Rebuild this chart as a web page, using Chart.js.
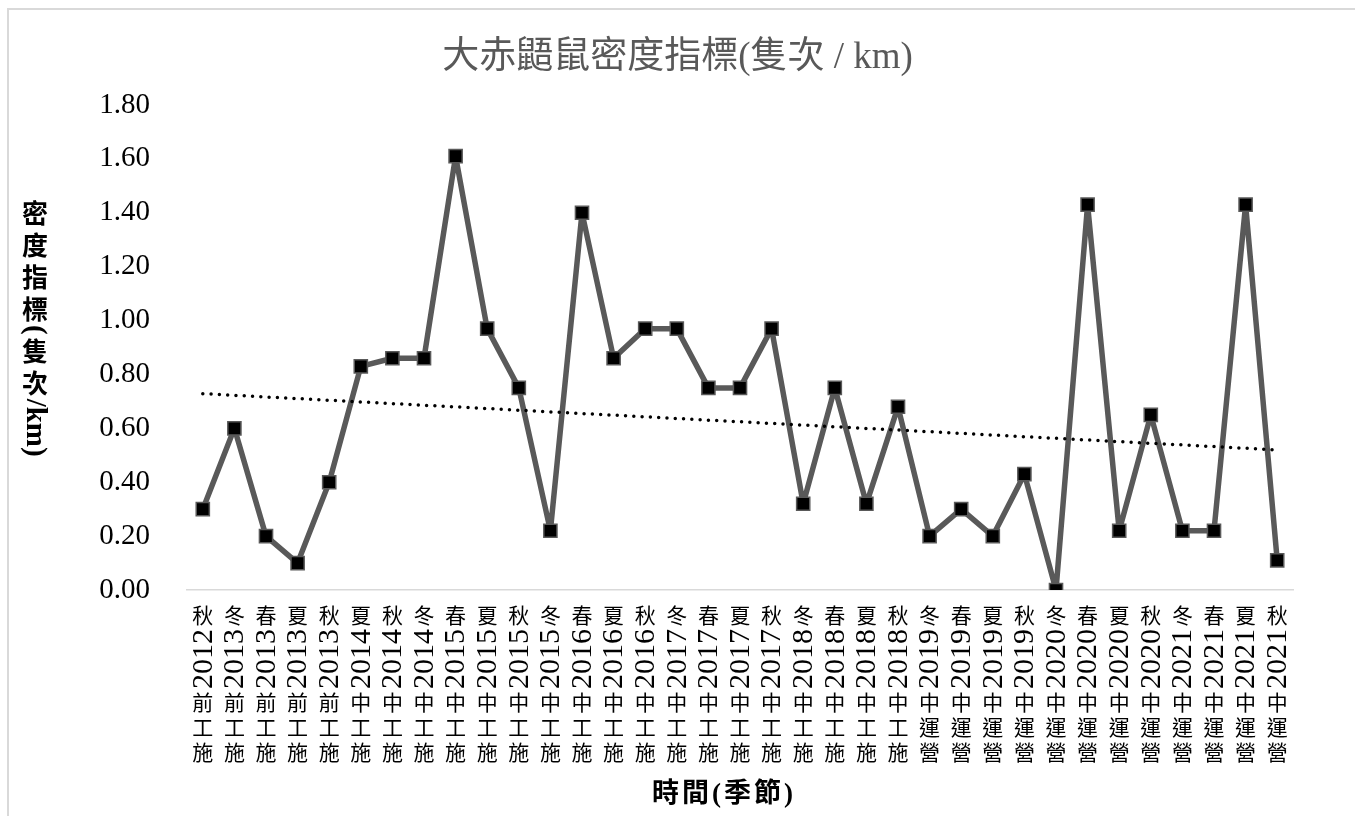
<!DOCTYPE html>
<html><head><meta charset="utf-8">
<script src="https://cdn.jsdelivr.net/npm/chart.js@4"></script>
<style>
html,body{margin:0;padding:0;background:#fff;overflow:hidden;width:1355px;height:816px;}
#frame{position:absolute;left:7px;top:8px;width:1400px;height:900px;border-left:2px solid #d9d9d9;border-top:2px solid #d9d9d9;box-sizing:border-box;}
#wrap{position:absolute;left:0;top:0;width:1355px;height:816px;}
</style></head><body>
<div id="frame"></div>
<div id="wrap"><canvas id="c"></canvas></div>
<script>
const categories = [
  '施工前2012秋','施工前2013冬','施工前2013春','施工前2013夏','施工前2013秋',
  '施工中2014夏','施工中2014秋','施工中2014冬','施工中2015春','施工中2015夏',
  '施工中2015秋','施工中2015冬','施工中2016春','施工中2016夏','施工中2016秋',
  '施工中2017冬','施工中2017春','施工中2017夏','施工中2017秋','施工中2018冬',
  '施工中2018春','施工中2018夏','施工中2018秋','營運中2019冬','營運中2019春',
  '營運中2019夏','營運中2019秋','營運中2020冬','營運中2020春','營運中2020夏',
  '營運中2020秋','營運中2021冬','營運中2021春','營運中2021夏','營運中2021秋'
];
const densityValues = [
  0.30,0.60,0.20,0.10,0.40,
  0.83,0.86,0.86,1.61,0.97,
  0.75,0.22,1.40,0.86,0.97,
  0.97,0.75,0.75,0.97,0.32,
  0.75,0.32,0.68,0.20,0.30,
  0.20,0.43,0.00,1.43,0.22,
  0.65,0.22,0.22,1.43,0.11
];
const yTickValues = [0,0.2,0.4,0.6,0.8,1.0,1.2,1.4,1.6,1.8];
const chartTitle = '大赤鼯鼠密度指標(隻次 / km)';
const yAxisTitle = '密度指標(隻次/km)';
const xAxisTitle = '時間(季節)';

// least-squares linear trendline (like Excel's linear trendline)
function linearTrend(vals){
  const n = vals.length;
  let sx=0, sy=0, sxy=0, sxx=0;
  vals.forEach((v,i)=>{ sx+=i; sy+=v; sxy+=i*v; sxx+=i*i; });
  const b = (n*sxy - sx*sy)/(n*sxx - sx*sx);
  const a = (sy - b*sx)/n;
  return vals.map((v,i)=>a + b*i);
}
const trendValues = linearTrend(densityValues);

function splitRuns(text){
  const runs=[]; let cur='';
  for (const ch of text){
    if (/[\x00-\x7F]/.test(ch)) cur+=ch;
    else { if(cur){runs.push({latin:true,t:cur});cur='';} runs.push({latin:false,t:ch}); }
  }
  if (cur) runs.push({latin:true,t:cur});
  return runs;
}
// text reading bottom-to-top, CJK upright, latin rotated counter-clockwise
function drawUpward(ctx, text, cx, yTop, o){
  const runs = splitRuns(text).reverse();
  let y = yTop;
  for (const r of runs){
    if (r.latin){
      ctx.font = o.latinFont;
      const w = ctx.measureText(r.t).width;
      ctx.save();
      ctx.translate(cx + (o.latinShift||0), y + w + o.gap);
      ctx.rotate(-Math.PI/2);
      ctx.textAlign='left'; ctx.textBaseline='middle';
      ctx.fillText(r.t,0,0);
      ctx.restore();
      y += w + 2*o.gap;
    } else {
      ctx.font = o.cjkFont; ctx.textAlign='center'; ctx.textBaseline='middle';
      ctx.fillText(r.t, cx, y + o.pitch/2);
      y += o.pitch;
    }
  }
}
// text reading top-to-bottom, CJK upright, latin rotated clockwise
function drawDownward(ctx, text, cx, yTop, o){
  const runs = splitRuns(text);
  let y = yTop;
  for (const r of runs){
    if (r.latin){
      ctx.font = o.latinFont;
      const w = ctx.measureText(r.t).width;
      ctx.save();
      ctx.translate(cx + (o.latinShift||0), y);
      ctx.rotate(Math.PI/2);
      ctx.textAlign='left'; ctx.textBaseline='middle';
      ctx.fillText(r.t,0,0);
      ctx.restore();
      y += w;
    } else {
      ctx.font = o.cjkFont; ctx.textAlign='center'; ctx.textBaseline='middle';
      ctx.fillText(r.t, cx, y + o.pitch/2);
      y += o.pitch;
    }
  }
}

const textPlugin = {
  id:'verticalText',
  afterDraw(chart){
    const ctx = chart.ctx, xs = chart.scales.x;
    ctx.save();
    ctx.fillStyle = '#000';
    categories.forEach((lab,i)=>{
      const cx = xs.getPixelForValue(i);
      drawUpward(ctx, lab, cx, xs.top + 13, {
        cjkFont:'21px "Noto Sans CJK TC"', pitch:25,
        latinFont:'30px "Liberation Serif"', gap:1, latinShift:1
      });
    });
    drawDownward(ctx, yAxisTitle, 35, 197, {
      cjkFont:'bold 26px "Noto Sans CJK TC"', pitch:32,
      latinFont:'bold 29px "Liberation Serif"', latinShift:-1
    });
    ctx.font = 'bold 27px "Liberation Serif","Noto Sans CJK TC"';
    if ('letterSpacing' in ctx) ctx.letterSpacing = '3px';
    ctx.textAlign='center'; ctx.textBaseline='middle';
    ctx.fillText(xAxisTitle, 724, 795);
    if ('letterSpacing' in ctx) ctx.letterSpacing = '0px';
    ctx.restore();
  }
};

new Chart(document.getElementById('c'), {
  type:'line',
  data:{
    labels: categories,
    datasets:[
      {
        label:'線性趨勢',
        data: trendValues,
        borderColor:'#000',
        borderWidth:3.5,
        borderDash:[0,8.3],
        borderCapStyle:'round',
        pointRadius:0,
        fill:false,
        tension:0,
        order:0
      },
      {
        label:'密度指標',
        data: densityValues,
        borderColor:'#595959',
        borderWidth:5.5,
        borderJoinStyle:'round',
        pointStyle:'rect',
        pointRadius:9.3,
        pointBackgroundColor:'#000',
        pointBorderColor:'#595959',
        pointBorderWidth:1.5,
        fill:false,
        tension:0,
        order:1
      }
    ]
  },
  plugins:[textPlugin],
  options:{
    responsive:true,
    maintainAspectRatio:false,
    animation:false,
    layout:{padding:{left:62,right:62,top:0,bottom:0}},
    plugins:{
      legend:{display:false},
      tooltip:{enabled:false},
      title:{
        display:true,
        text: chartTitle,
        color:'#595959',
        font:{family:'"Liberation Serif","Noto Sans CJK TC"', size:37, weight:'normal', lineHeight:1.2},
        padding:{top:36,bottom:24.6}
      }
    },
    scales:{
      x:{
        type:'category',
        offset:true,
        grid:{display:true,color:'rgba(0,0,0,0)',drawTicks:false},
        border:{display:true,color:'#d9d9d9',width:1.5},
        ticks:{display:false},
        afterFit(scale){ scale.height = 226; }
      },
      y:{
        min:0, max:1.8,
        grid:{display:false,drawTicks:false},
        border:{display:false},
        afterBuildTicks(scale){ scale.ticks = yTickValues.map(v=>({value:v})); },
        ticks:{
          padding:37,
          color:'#000',
          font:{family:'"Liberation Serif"', size:29},
          callback:(v)=>Number(v).toFixed(2)
        },
        afterFit(scale){ scale.width = 125; }
      }
    }
  }
});
</script>
</body></html>
